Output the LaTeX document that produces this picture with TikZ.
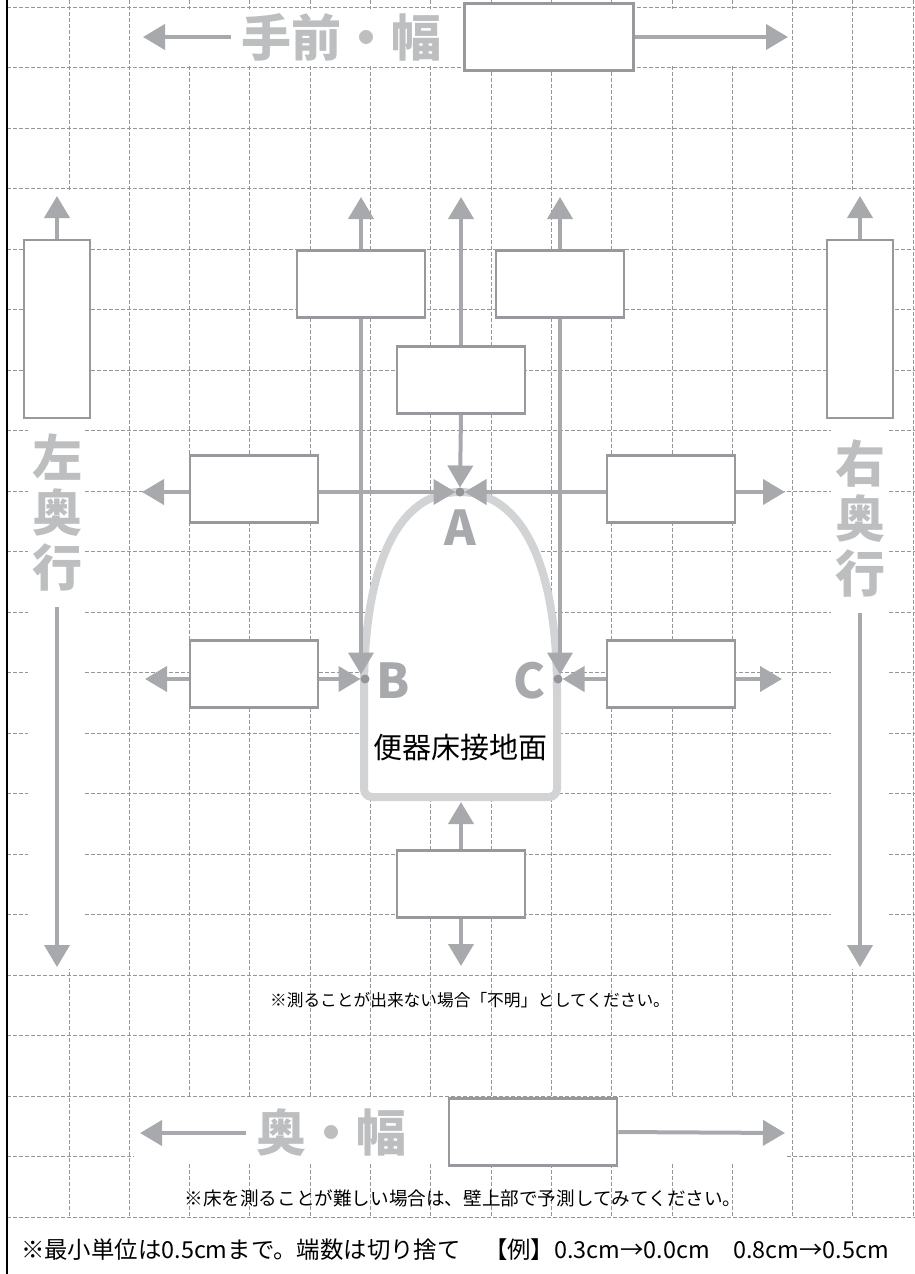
\documentclass[tikz,border=0pt]{standalone}
\usepackage{fontspec}
\setmainfont{Noto Sans CJK JP}
\usetikzlibrary{arrows.meta}
\definecolor{gridc}{RGB}{150,150,150}
\definecolor{arrc}{RGB}{167,169,172}
\definecolor{boxc}{RGB}{152,153,156}
\definecolor{ttlc}{RGB}{188,190,192}
\definecolor{seatc}{RGB}{209,211,212}
\definecolor{dotc}{RGB}{147,149,152}

\begin{document}
\begin{tikzpicture}[x=1pt,y=-1pt,
  gridline/.style={gridc,line width=0.8pt,dash pattern=on 4pt off 2pt},
  arr/.style={arrc,line width=4pt,-{Triangle[length=22pt,width=25pt]}},
  box/.style={draw=boxc,line width=2.5pt,fill=white,minimum width=128pt,minimum height=67pt,inner sep=0pt},
  tallbox/.style={box,minimum width=66pt,minimum height=178pt},
  ttl/.style={ttlc,font=\bfseries\fontsize{50}{55}\selectfont,inner xsep=10pt,inner ysep=0pt},
  vttl/.style={ttl,align=center,inner ysep=16pt},
  lbl/.style={arrc,font=\bfseries\fontsize{48}{48}\selectfont,inner sep=0pt},
  dot/.style={circle,fill=dotc,minimum size=9pt,inner sep=0pt,outer sep=0pt},
  note/.style={black,font=\fontsize{16.7}{20}\selectfont,inner sep=0pt}]
  \useasboundingbox (0,0) rectangle (915,1274);
  \foreach \i in {1,...,15}
    \draw[gridline] ({8.6+60.3*\i},0) -- ({8.6+60.3*\i},1217);
  \foreach \j in {0,...,20}
    \draw[gridline] (7,{7+60.5*\j}) -- (915,{7+60.5*\j});
  \fill[white] (134,9) rectangle (791,65);
  \fill[white] (28,192) rectangle (85,969);
  \fill[white] (831,192) rectangle (888,969);
  \fill[white] (134,1098) rectangle (787,1164);
  \draw[black,line width=2pt] (7,0) -- (7,1274);

  \filldraw[seatc,fill=white,line width=8pt] (364,690)
    [rounded corners=8pt] -- (364,797) -- (557,797) [sharp corners] -- (557,690)
    .. controls (557,565) and (522,492) .. (460,492)
    .. controls (398,492) and (364,565) .. (364,690) -- cycle;
  \node[black,font=\fontsize{29}{29}\selectfont] (seat) at (460,748) {便器床接地面};

  \node[ttl] (ttlTop) at (341,37) {手前・幅};
  \node[box,minimum width=169pt] (boxTop) at (549,37) {};
  \node[ttl] (ttlBot) at (331,1133) {奥・幅};
  \node[box,minimum width=168pt] (boxBot) at (533,1132) {};
  \node[vttl] (ttlL) at (57,512) {左\\奥\\行};
  \node[vttl] (ttlR) at (860,518) {右\\奥\\行};
  \node[tallbox] (boxL) at (57,329) {};
  \node[tallbox] (boxR) at (860,329) {};

  \node[box] (boxTL) at (361,284) {};
  \node[box] (boxTR) at (560,284) {};
  \node[box] (boxMid) at (461,380) {};
  \node[box] (boxAL) at (254,489) {};
  \node[box] (boxAR) at (671,489) {};
  \node[box] (boxBL) at (254,674) {};
  \node[box] (boxBR) at (671,674) {};
  \node[box] (boxLow) at (461,884) {};

  \node[dot] (dotA) at (460,492) {};
  \node[dot] (dotB) at (365,679) {};
  \node[dot] (dotC) at (558,679) {};
  \node[lbl] (lblA) at (460,528) {A};
  \node[lbl] (lblB) at (393,681) {B};
  \node[lbl] (lblC) at (530,681) {C};

  \coordinate (tipTopL) at (143,37);
  \coordinate (tipTopR) at (788,37);
  \coordinate (tipBotL) at (140,1133);
  \coordinate (tipBotR) at (785,1133);
  \draw[arr] (ttlTop.west) -- (tipTopL);
  \draw[arr] (boxTop.east) -- (tipTopR);
  \draw[arr] (ttlBot.west) -- (tipBotL);
  \draw[arr] (boxBot.east) -- (tipBotR);

  \draw[arr] (boxL.north) -- (57,196);
  \draw[arr] (boxR.north) -- (860,196);
  \draw[arr] (ttlL.south) -- (57,967);
  \draw[arr] (ttlR.south) -- (860,967);

  \draw[arr] (boxTL.north) -- (361,197);
  \draw[arr] (boxTR.north) -- (560,197);
  \draw[arr] (boxMid.north) -- (461,197);
  \draw[arr] (boxTL.south) -- (boxTL.south |- dotB.north);
  \draw[arr] (boxTR.south) -- (boxTR.south |- dotC.north);
  \draw[arr] (boxMid.south) -- (dotA.north);

  \draw[arr] (boxAL.west |- dotA) -- (142,492);
  \draw[arr] (boxAL.east |- dotA) -- (dotA.west);
  \draw[arr] (boxAR.east |- dotA) -- (785,492);
  \draw[arr] (boxAR.west |- dotA) -- (dotA.east);
  \draw[arr] (boxBL.west |- dotB) -- (145,679);
  \draw[arr] (boxBL.east |- dotB) -- (dotB.west);
  \draw[arr] (boxBR.east |- dotC) -- (782,679);
  \draw[arr] (boxBR.west |- dotC) -- (dotC.east);
  \draw[arr] (boxLow.north) -- (461,802);
  \draw[arr] (boxLow.south) -- (461,966);

  \node[note] (note1) at (470,1000) {※測ることが出来ない場合「不明」としてください。};
  \node[note,font=\fontsize{18.6}{20}\selectfont] (note2) at (463,1198) {※床を測ることが難しい場合は、壁上部で予測してみてください。};
  \node[note,font=\fontsize{23.4}{24}\selectfont] (note3) at (455,1250) {※最小単位は0.5cmまで。端数は切り捨て　【例】0.3cm→0.0cm　0.8cm→0.5cm};
\end{tikzpicture}
\end{document}
